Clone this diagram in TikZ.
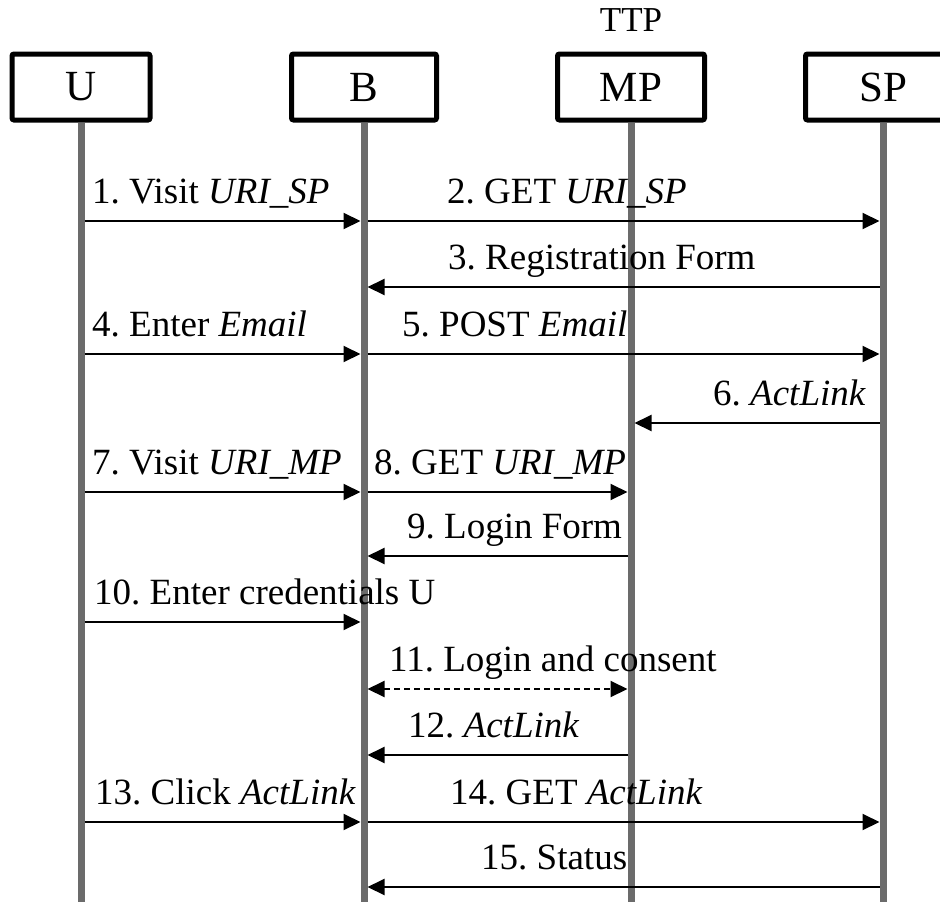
\documentclass[tikz,border=0pt]{standalone}
\usepackage{fontspec}
\setmainfont{Liberation Serif}
\frenchspacing
\usetikzlibrary{arrows.meta, calc, positioning}

\begin{document}
\begin{tikzpicture}[x=1pt, y=-1pt,
  every node/.style={font=\fontsize{37}{40}\selectfont},
  party/.style={draw, line width=5pt, rounded corners=2pt, minimum height=66pt,
    font=\fontsize{43}{46}\selectfont},
  life/.style={line width=7pt, black!58},
  msg/.style={line width=2pt, shorten <=3.5pt, shorten >=3.5pt,
    -{Triangle[length=17pt, width=16pt]}},
  lbl/.style={anchor=base west, inner sep=0pt}]
  \path[use as bounding box, clip] (0,0) rectangle (940,902);
  % parties as boxes
  \foreach \x/\w/\n in {81/138/U, 364/145/B, 631/147/MP, 883/155/SP}
    \node[party, minimum width=\w pt] (\n) at (\x,87) {\n};
  \node[inner sep=0pt, font=\fontsize{35}{38}\selectfont, above=20pt of MP] (ttp) {TTP};
  % lifelines
  \foreach \n in {U, B, MP, SP}
    \draw[life] (\n.south) -- (\n |- 0,902);
  % messages
  \foreach \m/\a/\b/\y in {1/U/B/221, 2/B/SP/221, 3/SP/B/287, 4/U/B/354, 5/B/SP/354,
      6/SP/MP/423, 7/U/B/492, 8/B/MP/492, 9/MP/B/556, 10/U/B/622, 12/MP/B/755,
      13/U/B/822, 14/B/SP/822, 15/SP/B/887} {
    \coordinate (m\m) at (0,\y);
    \draw[msg] (\a |- m\m) -- (\b |- m\m);
  }
  \coordinate (m11) at (0,689);
  \draw[msg, {Triangle[length=17pt, width=16pt]}-{Triangle[length=17pt, width=16pt]},
    dash pattern=on 6pt off 4pt] (B |- m11) -- (MP |- m11);
  % labels
  \node[lbl] (l1) at (92,203) {1. Visit \textit{URI\_SP}};
  \node[lbl] (l2) at (447,203) {2. GET \textit{URI\_SP}};
  \node[lbl] (l3) at (448,269) {3. Registration Form};
  \node[lbl] (l4) at (92,336) {4. Enter \textit{Email}};
  \node[lbl] (l5) at (402,336) {5. POST \textit{Email}};
  \node[lbl] (l6) at (713,405) {6. \textit{ActLink}};
  \node[lbl] (l7) at (92,474) {7. Visit \textit{URI\_MP}};
  \node[lbl] (l8) at (374,474) {8. GET \textit{URI\_MP}};
  \node[lbl] (l9) at (407,538) {9. Login Form};
  \node[lbl] (l10) at (94,604) {10. Enter credentials U};
  \node[lbl] (l11) at (389,671) {11. Login and consent};
  \node[lbl] (l12) at (408,737) {12. \textit{ActLink}};
  \node[lbl] (l13) at (95,804) {13. Click \textit{ActLink}};
  \node[lbl] (l14) at (450,804) {14. GET \textit{ActLink}};
  \node[lbl] (l15) at (481,869) {15. Status};
\end{tikzpicture}
\end{document}
